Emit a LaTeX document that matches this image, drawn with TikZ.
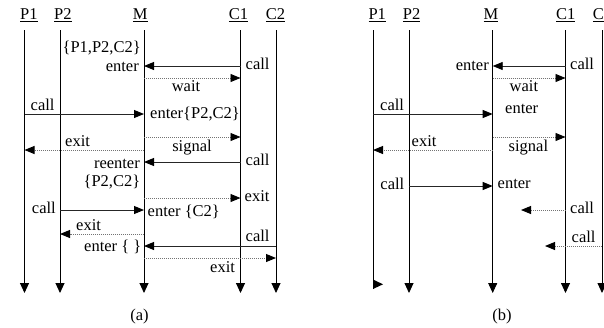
\documentclass[tikz,border=0pt]{standalone}
\usepackage{fontspec}
\setmainfont{Liberation Serif}
\usetikzlibrary{arrows.meta}
\begin{document}
\begin{tikzpicture}[x=1pt,y=-1pt,
  font=\fontsize{16.5}{19}\selectfont,
  lbl/.style={inner sep=0pt},
  life/.style={line width=0.9pt,-{Triangle[width=9pt,length=10pt]}},
  sync/.style={line width=0.9pt,black!85,-{Triangle[width=8pt,length=10pt,color=black,fill=black]}},
  async/.style={line width=0.9pt,black!55,dash pattern=on 1pt off 1pt,-{Triangle[width=8pt,length=10pt,color=black,fill=black]}}]
\useasboundingbox (0,0) rectangle (604,327);

% ---------------- panel (a) ----------------
\foreach \n/\x/\lx in {P1/24.5/20, P2/60/54, M/144/132.7, C1/240.5/228.7, C2/276/265.7}{
  \coordinate (a\n) at (\x,30);
  \coordinate (a\n e) at (\x,293);
  \node[lbl,anchor=base west] (la\n) at (\lx,19.5) {\underline{\n}};
}
\foreach \n/\x/\lx in {P2/409/402.7, M/492.7/483.3, C1/565.5/556, C2/602/592.7}{
  \coordinate (b\n) at (\x,30);
  \coordinate (b\n e) at (\x,293);
  \node[lbl,anchor=base west] (lb\n) at (\lx,19.5) {\underline{\n}};
}
\coordinate (bP1) at (373,30);
\coordinate (bP1e) at (373,289);
\node[lbl,anchor=base west] (lbP1) at (368.3,19.5) {\underline{P1}};

\foreach \n in {P1,P2,M,C1,C2}{
  \draw[life] (a\n) -- (a\n e);
}
\foreach \n in {P2,M,C1,C2}{
  \draw[life] (b\n) -- (b\n e);
}
\draw[line width=0.9pt] (bP1) -- (bP1e);
\coordinate (bT1) at (373,279.5);
\coordinate (bT2) at (383,284.3);
\fill (bT1) -- (bT2) -- (bP1e) -- cycle;

% row levels
\foreach \i/\y in {1/66,2/78,3/114,4/137,5/150,6/162,7/198,8/210,9/234,10/246,11/258}{
  \coordinate (ya\i) at (0,\y);
}
\foreach \i/\y in {1/66,2/78,3/114,4/137,5/150,6/186}{
  \coordinate (yb\i) at (0,\y);
}
\coordinate (bE7) at (521,210);
\coordinate (bE8) at (545,246);

% messages (a)
\draw[sync]  (aC1 |- ya1) -- (aM |- ya1);
\draw[async] (aM |- ya2) -- (aC1 |- ya2);
\draw[sync]  (aP1 |- ya3) -- (aM |- ya3);
\draw[async] (aM |- ya4) -- (aC1 |- ya4);
\draw[async] (aM |- ya5) -- (aP1 |- ya5);
\draw[sync]  (aC1 |- ya6) -- (aM |- ya6);
\draw[async] (aM |- ya7) -- (aC1 |- ya7);
\draw[sync]  (aP2 |- ya8) -- (aM |- ya8);
\draw[async] (aM |- ya9) -- (aP2 |- ya9);
\draw[sync]  (aC2 |- ya10) -- (aM |- ya10);
\draw[async] (aM |- ya11) -- (aC2 |- ya11);

% messages (b)
\draw[sync]  (bC1 |- yb1) -- (bM |- yb1);
\draw[async] (bM |- yb2) -- (bC1 |- yb2);
\draw[sync]  (bP1 |- yb3) -- (bM |- yb3);
\draw[async] (bM |- yb4) -- (bC1 |- yb4);
\draw[async] (bM |- yb5) -- (bP1 |- yb5);
\draw[sync]  (bP2 |- yb6) -- (bM |- yb6);
\draw[async] (bC1 |- bE7) -- (bE7);
\draw[async] (bC2 |- bE8) -- (bE8);

% labels (a)
\node[lbl,anchor=base east] (ta1) at (141,52.5) {\{P1,P2,C2\}};
\node[lbl,anchor=base east] (ta2) at (139,71) {enter};
\node[lbl,anchor=base west] (ta3) at (245.5,69) {call};
\node[lbl,anchor=base] (ta4) at (186,91.5) {wait};
\node[lbl,anchor=base west] (ta5) at (30.5,110) {call};
\node[lbl,anchor=base west] (ta6) at (150,118) {enter\{P2,C2\}};
\node[lbl,anchor=base] (ta7) at (192,151) {signal};
\node[lbl,anchor=base west] (ta8) at (65,146.5) {exit};
\node[lbl,anchor=base east] (ta9) at (140,168) {reenter};
\node[lbl,anchor=base west] (ta10) at (245.5,165) {call};
\node[lbl,anchor=base east] (ta11) at (140.5,186) {\{P2,C2\}};
\node[lbl,anchor=base west] (ta12) at (244.5,201.5) {exit};
\node[lbl,anchor=base east] (ta13) at (56,213.5) {call};
\node[lbl,anchor=base west] (ta14) at (147.5,216.5) {enter \{C2\}};
\node[lbl,anchor=base west] (ta15) at (76,230.5) {exit};
\node[lbl,anchor=base west] (ta16) at (245.5,241.5) {call};
\node[lbl,anchor=base east] (ta17) at (141.5,251.5) {enter \{ \}};
\node[lbl,anchor=base west] (ta18) at (210,272) {exit};
\node[lbl,anchor=base] (capa) at (139.5,320) {(a)};

% labels (b)
\node[lbl,anchor=base east] (tb1) at (489,70) {enter};
\node[lbl,anchor=base west] (tb2) at (570,69) {call};
\node[lbl,anchor=base west] (tb3) at (509.5,91.5) {wait};
\node[lbl,anchor=base west] (tb4) at (380,110) {call};
\node[lbl,anchor=base west] (tb5) at (505,113.5) {enter};
\node[lbl,anchor=base west] (tb6) at (411.5,146.5) {exit};
\node[lbl,anchor=base west] (tb7) at (508.5,151) {signal};
\node[lbl,anchor=base east] (tb8) at (404.5,189.5) {call};
\node[lbl,anchor=base west] (tb9) at (497.5,188) {enter};
\node[lbl,anchor=base west] (tb10) at (570,213.5) {call};
\node[lbl,anchor=base west] (tb11) at (571.5,242.5) {call};
\node[lbl,anchor=base] (capb) at (502,320) {(b)};
\end{tikzpicture}
\end{document}
